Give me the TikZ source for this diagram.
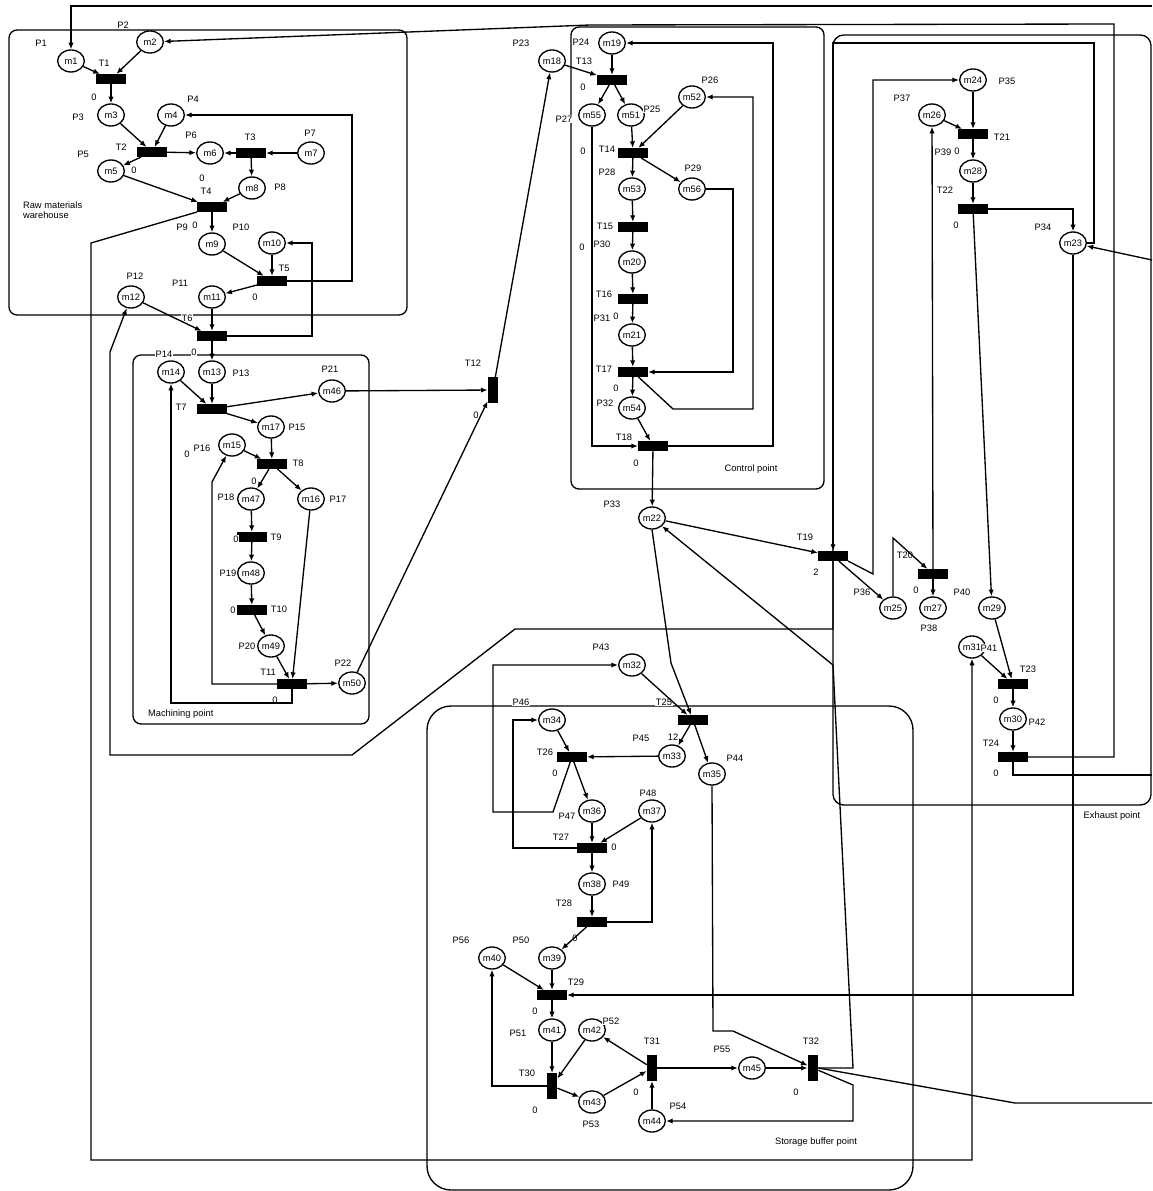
\documentclass[tikz,border=0pt]{standalone}
\usepackage{fontspec}
\setmainfont{Liberation Sans}
\usetikzlibrary{arrows.meta,shapes.geometric}
\tikzset{
  base/.style={font=\fontsize{7}{8}\selectfont, inner sep=0.6pt},
  plc/.style={base, ellipse, draw=black, line width=1pt, fill=white, minimum width=20pt, minimum height=16.5pt, inner sep=0pt},
  trh/.style={rectangle, fill=black, minimum width=22.5pt, minimum height=7.5pt, inner sep=0pt, outer sep=0pt},
  trv/.style={trh, minimum width=8pt, minimum height=19.5pt},
  lbl/.style={base, fill=white},
  zone/.style={line width=1pt, rounded corners=#1},
  zone/.default=6pt,
  zonelabel/.style={base, align=left},
  arr/.style={-{Latex[length=5pt,width=4pt]}, line width=1pt},
  wire/.style={line width=1pt},
}
\begin{document}
\begin{tikzpicture}[x=0.75pt,y=-0.75pt]
  \useasboundingbox (0,0) rectangle (1152,1191);
  % zones
  \draw[zone] (9,30) rectangle (407,315);
  \draw[zone] (133,355) rectangle (369,724);
  \draw[zone] (571,27) rectangle (824,489);
  \draw[zone=8pt] (833,35) rectangle (1151,805);
  \draw[zone=18pt] (427,706) rectangle (913,1190);
  \node[zonelabel,anchor=west] (lraw) at (22,210) {Raw materials\\warehouse};
  \node[zonelabel,anchor=west] (lmach) at (147,714) {Machining point};
  \node[zonelabel] (lctrl) at (751,469) {Control point};
  \node[zonelabel] (lexh) at (1112,816) {Exhaust point};
  \node[zonelabel] (lstor) at (816,1142) {Storage buffer point};
  % places
  \foreach \n/\x/\y in {m1/71/61, m2/150/42, m3/111/115, m4/171/115, m5/111/171, m6/210/153,
    m7/311/153, m8/252/188, m9/212/244, m10/272/243, m11/212/297, m12/131/297,
    m13/212/372, m14/171/372, m15/232/445, m16/311/499, m17/271/427, m18/552/61,
    m19/612/43, m20/632/262, m21/632/335, m22/652/518, m23/1073/243, m24/973/80,
    m25/893/608, m26/932/115, m27/933/608, m28/973/171, m29/992/608, m30/1013/719,
    m31/972/647, m32/632/665, m33/672/756, m34/552/720, m35/712/774, m36/592/811,
    m37/652/811, m38/592/884, m39/552/958, m40/492/958, m41/552/1030, m42/592/1030,
    m43/592/1102, m44/652/1121, m45/752/1068, m46/332/391, m47/251/499, m48/251/573,
    m49/271/646, m50/352/683, m51/631/115, m52/692/97, m53/632/189, m54/632/408,
    m55/592/115, m56/692/189}
    \node[plc] (\n) at (\x,\y) {\n};
  % transitions
  \foreach \n/\x/\y in {T1/111/79, T2/152/152, T3/251/153, T4/212/207, T5/272/281,
    T6/212/336, T7/212/409, T8/272/464, T9/252/537, T10/252/610, T11/292/684,
    T13/612/80, T14/633/153, T15/633/227, T16/633/299, T17/633/372, T18/653/446,
    T19/833/556, T20/933/574, T21/973/134, T22/973/209, T23/1013/684, T24/1013/757,
    T25/693/720, T26/572/757, T27/592/848, T28/592/922, T29/552/995}
    \node[trh] (\n) at (\x,\y) {};
  \foreach \n/\x/\y in {T12/493/390, T30/552/1086, T31/652/1068, T32/813/1068}
    \node[trv] (\n) at (\x,\y) {};
  % place labels
  \foreach \t/\x/\y in {P1/41/43, P2/123/25, P3/78/117, P4/193/99, P5/83/154, P6/191/135,
    P7/310/133, P8/280/187, P9/182/227, P10/241/227, P11/180/283, P12/135/276,
    P13/241/373, P14/164/354, P15/297/427, P16/202/448, P17/338/499, P18/226/497,
    P19/228/573, P20/247/646, P21/330/369, P22/343/663, P23/521/43, P24/581/42,
    P25/652/109, P26/710/80, P27/564/119, P28/607/172, P29/693/168, P30/602/244,
    P31/602/318, P32/605/403, P33/612/504, P34/1043/227, P35/1007/81, P36/862/592,
    P37/902/98, P38/929/628, P39/943/152, P40/962/592, P41/989/648, P42/1037/722,
    P43/601/647, P44/735/758, P45/641/738, P46/521/702, P47/567/816, P48/648/793,
    P49/621/884, P50/521/940, P51/518/1033, P52/611/1021, P53/591/1124, P54/678/1106,
    P55/722/1049, P56/461/940}
    \node[lbl] (n\t) at (\x,\y) {\t};
  % transition labels
  \foreach \t/\x/\y in {T1/104/63, T2/121/147, T3/250/137, T4/206/191, T5/284/268,
    T6/187/318, T7/181/407, T8/298/463, T9/276/537, T10/279/609, T11/268/672,
    T12/473/363, T13/584/61, T14/607/149, T15/605/226, T16/604/294, T17/604/369,
    T18/624/437, T19/805/537, T20/905/555, T21/1002/137, T22/945/190, T23/1028/669,
    T24/991/743, T25/664/702, T26/545/752, T27/561/837, T28/564/903, T29/576/982,
    T30/527/1073, T31/652/1041, T32/811/1041}
    \node[lbl] (n\t) at (\x,\y) {\t};
  % times
  \foreach \v/\x/\y [count=\i] in {0/94/97, 0/134/170, 0/202/178, 0/195/225, 0/255/297,
    0/194/352, 0/187/454, 0/254/481, 0/236/539, 0/233/610, 0/275/700, 0/476/415,
    0/583/87, 0/583/151, 0/582/247, 0/616/316, 0/616/388, 0/636/463, 2/816/572,
    0/916/590, 0/957/151, 0/956/225, 0/996/700, 0/996/773, 12/673/737, 0/555/773,
    0/614/847, 0/575/938, 0/535/1011, 0/535/1110, 0/636/1092, 0/796/1092}
    \node[lbl] (z\i) at (\x,\y) {\v};
  % ends outside the frame
  \coordinate (eTop) at (1152,6);
  \coordinate (eR1) at (1152,260);
  \coordinate (eR2) at (1152,775);
  \coordinate (eR3) at (1152,1103);
  % straight arcs
  \foreach \a/\b in {m1/T1, m2/T1, T1/m3, m3/T2, m4/T2, T2/m6, T2/m5, T3/m6, m7/T3, T3/m8,
    m5/T4, m8/T4, T4/m9, m9/T5, m10/T5, T5/m11, m11/T6, m12/T6, T6/m13,
    m14/T7, m13/T7, T7/m46, T7/m17, m17/T8, m15/T8, T8/m47, T8/m16, m47/T9, T9/m48,
    m48/T10, T10/m49, m49/T11, m16/T11, T11/m50, m46/T12, m50/T12, T12/m18,
    m18/T13, m19/T13, T13/m55, T13/m51, m51/T14, m52/T14, T14/m53, T14/m56, m53/T15,
    T15/m20, m20/T16, T16/m21, m21/T17, T17/m54, m54/T18, T18/m22,
    m22/T19, T19/m25, T20/m27, T20/m26, m26/T21, m24/T21, T21/m28, m28/T22, T22/m29,
    m29/T23, m31/T23, T23/m30, m30/T24,
    m32/T25, T25/m33, T25/m35, m33/T26, m34/T26, T26/m36, m36/T27, m37/T27, T27/m38,
    m38/T28, T28/m39, m39/T29, m40/T29, T29/m41, m41/T30, m42/T30, T30/m43, m43/T31,
    T31/m42, m44/T31, T31/m45, m45/T32}
    {\draw[arr] (\a) -- (\b);}
  % routed arcs
  \draw[arr] (eTop) -| (m1.north);
  \draw[arr] (T5.east) -| (352,115) -- (m4.east);
  \draw[arr] (T6.east) -| (312,243) -- (m10.east);
  \draw[arr] (T4.south west) -- (91,243) -- (91,1160) -| (m31.south);
  \draw[arr] (T11.south) -- (292,703) -| (m14.south);
  \draw[arr] (T11.west) -- (212,684) -- (212,482) -- (m15);
  \draw[arr] (m55.south) |- (T18.west);
  \draw[arr] (m56.east) -- (733,189) |- (T17.east);
  \draw[arr] (T17) -- (673,409) -- (753,409) |- (m52.east);
  \draw[arr] (T18.east) -- (773,446) |- (m19.east);
  \draw[arr] (T24.east) -| (1114,24) -- (590,25) -- (m2);
  \draw[wire] (T24.south) |- (eR2);
  \draw[arr] (eR1) -- (m23);
  \draw[arr] (m23.east) -- (1094,243) |- (833,43) -- (T19.north);
  \draw[arr] (m23.south) |- (T29.east);
  \draw[arr] (T22.east) -| (m23.north);
  \draw[arr] (T19.south east) -- (873,574) |- (m24.west);
  \draw[arr] (T19.south) -- (833,629) -- (515,629) -- (352,755) -- (110,755) -- (110,352) -- (m12);
  \draw[arr] (m25.north) -- (893,538) -- (T20);
  \draw[arr] (m22.south) -- (671,663) -- (T25);
  \draw[arr] (T26) -- (553,812) -- (493,812) |- (m32.west);
  \draw[arr] (T27.west) -- (513,848) |- (m34.west);
  \draw[arr] (T28.east) -| (m37.south);
  \draw[arr] (T30.west) -| (m40.south);
  \draw[arr] (m35.south) -- (713,1031) -- (733,1031) -- (T32);
  \draw[arr] (T32.east) -- (853,1068) -- (833,665) -- (m22);
  \draw[arr] (T32) -- (853,1085) |- (m44.east);
  \draw[wire] (T32.east) -- (1015,1103) -- (eR3);
\end{tikzpicture}
\end{document}
